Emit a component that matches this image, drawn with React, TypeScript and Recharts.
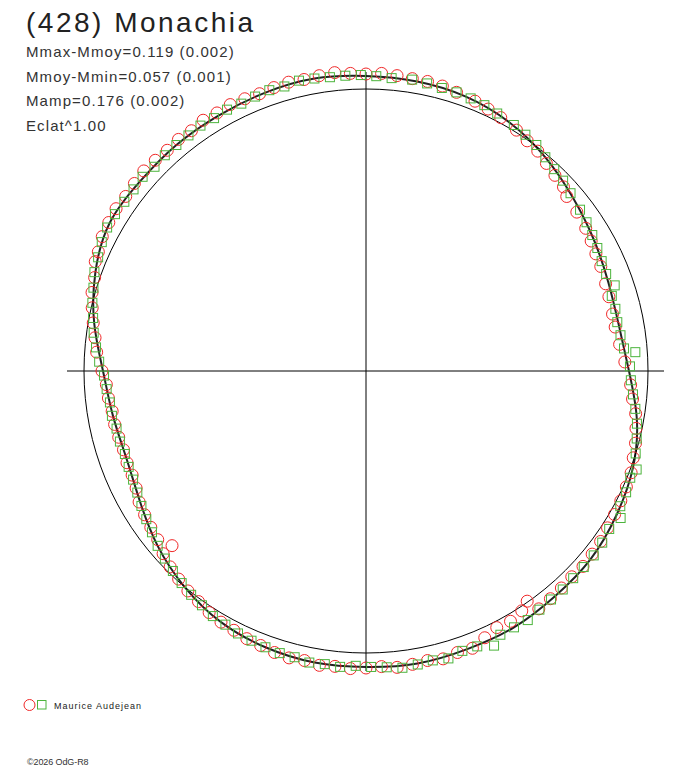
import {
    ComposedChart,
    Line,
    Scatter,
    XAxis,
    YAxis,
    ReferenceDot,
    ReferenceLine,
} from "recharts";

// fitted light curve: polar angle (deg) and radius (px units, reference circle = 282)
const curveAngle = [
    0, 10, 20, 30, 40, 50, 60, 70, 80, 90, 100, 110, 120, 130, 140, 150, 160, 170,
    180, 190, 200, 210, 220, 230, 240, 250, 260, 270, 280, 290, 300, 310, 320, 330,
    340, 350, 360,
];
const curveRadius = [
    263, 257, 258, 263, 270, 279, 287, 292, 294, 295, 297, 296, 295, 295, 295, 296, 288, 276,
    263, 257, 255, 261, 272, 282, 290, 294, 296, 296, 297, 296, 296, 294, 293, 289,
    284, 275, 263,
];

// red circles
const redAngle = [
    2, 6, 10, 13, 17, 20, 24, 27, 30, 33, 37, 41, 43, 46, 49, 52, 55, 58, 62, 65,
    68, 72, 75, 78, 81, 84, 87, 90, 93, 96, 99, 102, 105, 108, 111, 114, 117, 120,
    123, 126, 129, 132, 135, 138, 141, 144, 147, 150, 153, 156, 158, 161, 164, 167,
    170, 173, 176, 180, 183, 186, 189, 192, 195, 198, 201, 204, 207, 210, 213, 216,
    219, 222, 222, 225, 228, 231, 234, 237, 240, 243, 246, 249, 252, 255, 258, 261,
    264, 267, 270, 273, 276, 279, 282, 285, 288, 291, 294, 297, 300, 303, 305, 306,
    309, 312, 315, 318, 321, 324, 327, 330, 333, 336, 339, 342, 345, 348, 351, 354, 357,
];
const redRadius = [
    259, 255, 253, 253, 254, 255, 257, 258, 260, 262, 264, 266, 270, 272, 275, 279, 281, 284, 287, 289,
    291, 293, 295, 296, 296, 297, 298, 297, 298, 300, 299, 298, 299, 298, 297, 298, 299, 298,
    299, 297, 298, 297, 298, 299, 298, 297, 298, 297, 296, 293, 292, 287, 285, 281,
    277, 273, 270, 264, 260, 259, 257, 257, 256, 255, 256, 256, 258, 262, 264, 266,
    268, 261, 273, 277, 280, 283, 285, 288, 290, 291, 293, 294, 296, 297, 296, 298,
    297, 298, 297, 296, 298, 297, 296, 298, 296, 297, 292, 288, 289, 286, 281, 294,
    293, 292, 291, 292, 291, 290, 288, 287, 286, 285, 284, 281, 279, 276, 273, 268, 265,
];

// green squares
const greenAngle = [
    1, 4, 5, 8, 11, 14, 17, 19, 22, 25, 28, 31, 34, 37, 41, 44, 47, 50, 53, 56,
    59, 63, 66, 69, 72, 75, 78, 81, 85, 88, 91, 94, 97, 100, 103, 106, 109, 112,
    115, 118, 121, 124, 127, 130, 133, 136, 139, 142, 145, 148, 151, 154, 157, 160,
    163, 166, 169, 172, 175, 178, 181, 184, 187, 190, 193, 196, 199, 202, 205, 208,
    211, 214, 217, 220, 223, 226, 229, 232, 235, 238, 241, 244, 247, 250, 253, 256,
    259, 262, 265, 268, 271, 274, 277, 280, 283, 286, 289, 292, 295, 297, 300, 303,
    306, 309, 312, 315, 318, 321, 324, 327, 330, 332, 335, 338, 340, 343, 346, 349,
    352, 355, 358,
];
const greenRadius = [
    264, 270, 259, 257, 256, 257, 257, 263, 259, 260, 262, 264, 266, 268, 271, 274, 276, 279, 283, 285,
    287, 289, 291, 292, 293, 293, 294, 295, 294, 295, 296, 296, 296, 297, 298, 296, 297, 296,
    295, 296, 295, 296, 295, 295, 295, 294, 296, 295, 295, 296, 296, 294, 291, 289,
    285, 282, 278, 275, 271, 267, 262, 260, 258, 258, 256, 256, 255, 256, 257, 259,
    262, 265, 268, 272, 275, 278, 281, 284, 286, 289, 290, 292, 293, 294, 295, 295,
    297, 296, 297, 295, 296, 297, 299, 298, 297, 299, 296, 297, 303, 296, 296, 297,
    295, 294, 294, 293, 293, 293, 292, 290, 294, 288, 287, 285, 288, 282, 279, 276,
    272, 268, 265,
];

const statLines = [
    "Mmax-Mmoy=0.119 (0.002)",
    "Mmoy-Mmin=0.057 (0.001)",
    "Mamp=0.176 (0.002)",
    "Eclat^1.00",
];

const toXY = (angles: number[], radii: number[]) =>
    angles.map((a, i) => ({
        x: radii[i] * Math.cos((a * Math.PI) / 180),
        y: radii[i] * Math.sin((a * Math.PI) / 180),
    }));

const curveData = toXY(curveAngle, curveRadius);
const redData = toXY(redAngle, redRadius);
const greenData = toXY(greenAngle, greenRadius);

const RedCircle = (props: any) => (
    <circle
        cx={props.cx}
        cy={props.cy}
        r={6}
        fill="none"
        stroke="#f02828"
        strokeWidth={1}
    />
);

const GreenSquare = (props: any) => (
    <rect
        x={props.cx - 4.5}
        y={props.cy - 4.5}
        width={9}
        height={9}
        fill="none"
        stroke="#4cb43c"
        strokeWidth={1}
    />
);

export default function App() {
    return (
        <div
            style={{
                position: "absolute",
                left: 0,
                top: 0,
                width: 688,
                height: 768,
                background: "#fff",
                fontFamily: "'Liberation Sans', Arial, sans-serif",
            }}
        >
            <ComposedChart
                width={688}
                height={768}
                margin={{ top: 0, right: 0, bottom: 0, left: 0 }}
            >
                <XAxis
                    dataKey="x"
                    type="number"
                    domain={[-366, 322]}
                    allowDataOverflow
                    hide
                />
                <YAxis
                    dataKey="y"
                    type="number"
                    domain={[-397, 371]}
                    allowDataOverflow
                    hide
                />
                <ReferenceLine
                    segment={[
                        { x: -299, y: 0 },
                        { x: 298, y: 0 },
                    ]}
                    stroke="#000"
                    strokeWidth={1}
                />
                <ReferenceLine
                    segment={[
                        { x: 0, y: 299 },
                        { x: 0, y: -300 },
                    ]}
                    stroke="#000"
                    strokeWidth={1}
                />
                <ReferenceDot
                    x={0}
                    y={0}
                    r={282}
                    fill="none"
                    stroke="#000"
                    strokeWidth={1}
                />
                <Line
                    data={curveData}
                    dataKey="y"
                    type="natural"
                    dot={false}
                    stroke="#222"
                    strokeWidth={2}
                    isAnimationActive={false}
                />
                <Scatter
                    data={redData}
                    shape={RedCircle}
                    isAnimationActive={false}
                />
                <Scatter
                    data={greenData}
                    shape={GreenSquare}
                    isAnimationActive={false}
                />
            </ComposedChart>

            <svg
                width={688}
                height={768}
                style={{ position: "absolute", left: 0, top: 0, pointerEvents: "none" }}
            >
                <text x={26} y={32} fontSize={28} letterSpacing={2.5} fill="#222">
                    (428) Monachia
                </text>
                {statLines.map((s, i) => (
                    <text
                        key={s}
                        x={26}
                        y={57 + i * 24.5}
                        fontSize={15}
                        letterSpacing={1.1}
                        fill="#333"
                    >
                        {s}
                    </text>
                ))}
                <circle cx={29.5} cy={705} r={5.5} fill="none" stroke="#f02828" />
                <rect x={37.5} y={700.5} width={8.5} height={8.5} fill="none" stroke="#4cb43c" />
                <text x={54} y={709} fontSize={9} letterSpacing={1} fill="#222">
                    Maurice Audejean
                </text>
                <text x={27} y={765} fontSize={9} letterSpacing={-0.1} fill="#333">
                    ©2026 OdG-R8
                </text>
            </svg>
        </div>
    );
}
